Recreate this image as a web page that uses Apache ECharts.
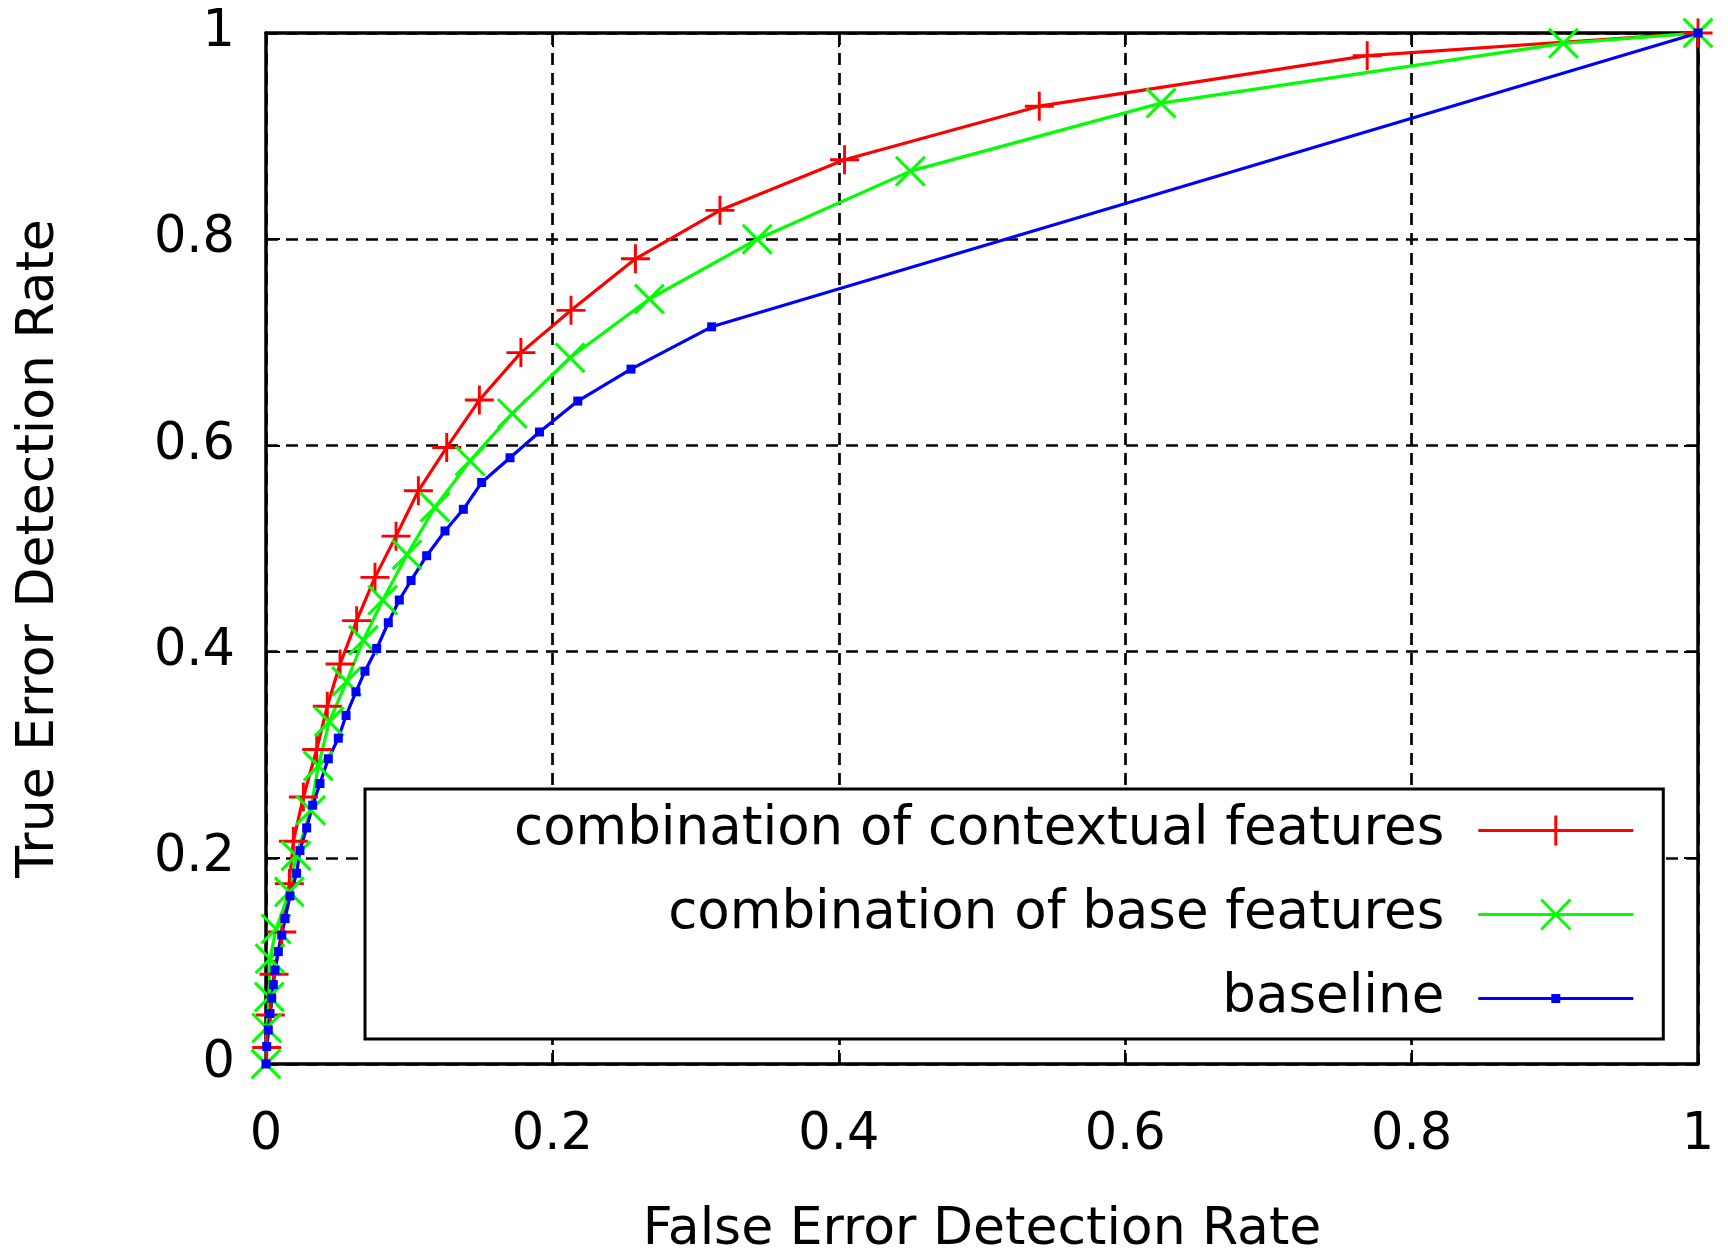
<!DOCTYPE html>
<html>
<head>
<meta charset="utf-8">
<script src="https://cdn.jsdelivr.net/npm/echarts@6/dist/echarts.min.js"></script>
<style>
html, body { margin: 0; padding: 0; background: #fff; }
#chart { width: 1728px; height: 1255px; }
</style>
</head>
<body>
<div id="chart"></div>
<script>
// values
var seriesNames = ['combination of contextual features', 'combination of base features', 'baseline'];

var contextualFpr = [0.0005, 0.003, 0.0056, 0.011, 0.0163, 0.0191, 0.0261, 0.0354, 0.0428, 0.0517, 0.0633, 0.0761, 0.0908, 0.1064, 0.1262, 0.149, 0.178, 0.213, 0.258, 0.317, 0.404, 0.540, 0.769, 1];
var contextualTpr = [0.016, 0.0475, 0.087, 0.128, 0.175, 0.216, 0.259, 0.305, 0.347, 0.388, 0.430, 0.472, 0.512, 0.556, 0.598, 0.644, 0.690, 0.731, 0.781, 0.828, 0.877, 0.929, 0.978, 1];

var baseFpr = [0, 0.0005, 0.0023, 0.0028, 0.007, 0.0163, 0.021, 0.0312, 0.0365, 0.0442, 0.0563, 0.068, 0.0815, 0.0985, 0.118, 0.1425, 0.172, 0.2123, 0.2677, 0.343, 0.450, 0.625, 0.906, 1];
var baseTpr = [0, 0.035, 0.065, 0.102, 0.131, 0.167, 0.202, 0.246, 0.289, 0.332, 0.371, 0.411, 0.450, 0.494, 0.540, 0.585, 0.631, 0.685, 0.742, 0.800, 0.866, 0.932, 0.990, 1];

var baselineFpr = [0, 0.0005, 0.0016, 0.0028, 0.004, 0.0051, 0.0063, 0.0086, 0.011, 0.0133, 0.0168, 0.0214, 0.0237, 0.0284, 0.0326, 0.0377, 0.0435, 0.0505, 0.0559, 0.0628, 0.0691, 0.0773, 0.0854, 0.0931, 0.1013, 0.1122, 0.125, 0.1378, 0.1506, 0.1704, 0.191, 0.2177, 0.2549, 0.3112, 1];
var baselineTpr = [0, 0.017, 0.033, 0.049, 0.064, 0.077, 0.091, 0.109, 0.125, 0.141, 0.163, 0.185, 0.207, 0.229, 0.251, 0.272, 0.296, 0.316, 0.338, 0.361, 0.381, 0.403, 0.428, 0.450, 0.469, 0.493, 0.517, 0.538, 0.564, 0.588, 0.613, 0.643, 0.674, 0.715, 1];

var axisTicks = [0, 0.2, 0.4, 0.6, 0.8, 1];

function pairs(xs, ys) {
  var out = [];
  for (var i = 0; i < xs.length; i++) out.push([xs[i], ys[i]]);
  return out;
}

var font = 'DejaVu Sans';

// gnuplot-like point shapes
var plusSym = 'path://M9,0 L11,0 L11,9 L20,9 L20,11 L11,11 L11,20 L9,20 L9,11 L0,11 L0,9 L9,9 Z';
var crossSym = 'path://M0,1.4 L1.4,0 L20,18.6 L18.6,20 Z M18.6,0 L20,1.4 L1.4,20 L0,18.6 Z';
var squareSym = 'rect';

// legend icons: line + point, drawn in a 155x32 box
var specks = ' M0,0 L0.01,0 L0.01,0.01 Z M155,32 L154.99,32 L154.99,31.99 Z';
var plusIcon = 'path://M0,14.5 L155,14.5 L155,17.5 L0,17.5 Z M76,1 L79,1 L79,31 L76,31 Z' + specks;
var crossIcon = 'path://M0,14.5 L155,14.5 L155,17.5 L0,17.5 Z M62,2 L64,0 L93,30 L91,32 Z M91,0 L93,2 L64,32 L62,30 Z' + specks;
var squareIcon = 'path://M0,14.5 L155,14.5 L155,17.5 L0,17.5 Z M73,11.5 L82,11.5 L82,20.5 L73,20.5 Z' + specks;

function axisBase(pos, showLabel) {
  return {
    type: 'value',
    position: pos,
    min: 0, max: 1, interval: 0.2,
    axisLine: { show: true, onZero: false, lineStyle: { color: '#000', width: 3.5 } },
    axisTick: { show: true, inside: true, length: 14, lineStyle: { color: '#000', width: 2 } },
    axisLabel: { show: showLabel, color: '#000', fontFamily: font, fontSize: 51 },
    splitLine: { show: false }
  };
}

var xMain = axisBase('bottom', true);
xMain.axisLabel.margin = 46;
xMain.name = 'False Error Detection Rate';
xMain.nameLocation = 'middle';
xMain.nameGap = 140;
xMain.nameTextStyle = { color: '#000', fontFamily: font, fontSize: 52 };
xMain.splitLine = { show: true, lineStyle: { color: '#000', width: 2.7, type: [12, 8] } };
xMain.axisLabel.formatter = function (v) { return String(axisTicks[Math.round(v * 5)]); };

var yMain = axisBase('left', true);
yMain.axisLabel.margin = 31;
yMain.name = 'True Error Detection Rate';
yMain.nameLocation = 'middle';
yMain.nameGap = 201;
yMain.nameTextStyle = { color: '#000', fontFamily: font, fontSize: 52 };
yMain.splitLine = { show: true, lineStyle: { color: '#000', width: 2.7, type: [12, 8] } };
yMain.axisLabel.formatter = function (v) { return String(axisTicks[Math.round(v * 5)]); };

var option = {
  animation: false,
  backgroundColor: '#fff',
  grid: { left: 266, right: 30, top: 33, bottom: 191, outerBoundsMode: 'none', containLabel: false },
  xAxis: [xMain, axisBase('top', false)],
  yAxis: [yMain, axisBase('right', false)],
  legend: {
    orient: 'vertical',
    align: 'right',
    left: 365,
    top: 789,
    itemWidth: 155,
    itemHeight: 32,
    itemGap: 31,
    padding: [15, 30, 14, 149],
    borderColor: '#000',
    borderWidth: 3,
    borderRadius: 0,
    backgroundColor: '#fff',
    selectedMode: false,
    itemStyle: { borderWidth: 0 },
    textStyle: { color: '#000', fontFamily: font, fontSize: 53, padding: [0, 29, 0, 0] },
    data: [
      { name: seriesNames[0], icon: plusIcon },
      { name: seriesNames[1], icon: crossIcon },
      { name: seriesNames[2], icon: squareIcon }
    ]
  },
  series: [
    {
      name: seriesNames[0], type: 'line',
      data: pairs(contextualFpr, contextualTpr),
      symbol: plusSym, symbolSize: 29,
      lineStyle: { color: '#ff0000', width: 3.2 },
      itemStyle: { color: '#ff0000', borderWidth: 0 },
      emphasis: { disabled: true }
    },
    {
      name: seriesNames[1], type: 'line',
      data: pairs(baseFpr, baseTpr),
      symbol: crossSym, symbolSize: 31,
      lineStyle: { color: '#00ff00', width: 3.2 },
      itemStyle: { color: '#00ff00', borderWidth: 0 },
      emphasis: { disabled: true }
    },
    {
      name: seriesNames[2], type: 'line',
      data: pairs(baselineFpr, baselineTpr),
      symbol: squareSym, symbolSize: 9,
      lineStyle: { color: '#0000ff', width: 3.2 },
      itemStyle: { color: '#0000ff', borderWidth: 0 },
      emphasis: { disabled: true }
    }
  ]
};

var chart = echarts.init(document.getElementById('chart'));
chart.setOption(option);
</script>
</body>
</html>
